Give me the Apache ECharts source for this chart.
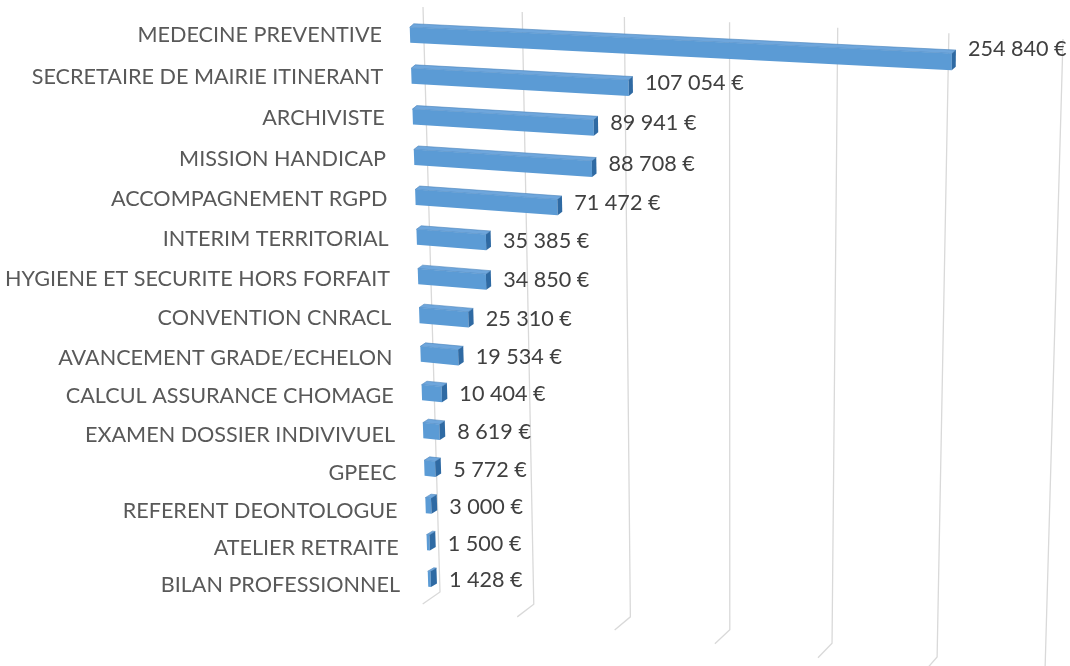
<!DOCTYPE html>
<html><head><meta charset="utf-8">
<script src="https://cdn.jsdelivr.net/npm/echarts@6/dist/echarts.min.js"></script>
<style>html,body{margin:0;padding:0;background:#fff}#c{width:1070px;height:666px}</style>
</head><body><div id="c"></div>
<script>
// ---- data ----
const categories = ['MEDECINE PREVENTIVE', 'SECRETAIRE DE MAIRIE ITINERANT', 'ARCHIVISTE', 'MISSION HANDICAP', 'ACCOMPAGNEMENT RGPD', 'INTERIM TERRITORIAL', 'HYGIENE ET SECURITE HORS FORFAIT', 'CONVENTION CNRACL', 'AVANCEMENT GRADE/ECHELON', 'CALCUL ASSURANCE CHOMAGE', 'EXAMEN DOSSIER INDIVIVUEL', 'GPEEC', 'REFERENT DEONTOLOGUE', 'ATELIER RETRAITE', 'BILAN PROFESSIONNEL'];
const values = [254840, 107054, 89941, 88708, 71472, 35385, 34850, 25310, 19534, 10404, 8619, 5772, 3000, 1500, 1428];
const gridTicks = [0, 50000, 100000, 150000, 200000, 250000, 300000];
const AXIS_MAX = 300000;

// ---- perspective styling (3D look) ----
const BAR_PLANE = {tl:[410,35], tr:[1056,67], bl:[428,579], br:[1045,656]};
const WALL_TOP = [[423,7],[1063,39]];
const WALL_BOTTOM = [[440,592],[1045,671]];
const FLOOR_FRONT = [[422.7,604],[1032.7,687]];
const fu = u => u - 0.084*u*(1-u);
const fs = s => s + 0.062*s*(1-s);
function bil(q, a, b){
  return [
    (1-a)*(1-b)*q.tl[0] + a*(1-b)*q.tr[0] + (1-a)*b*q.bl[0] + a*b*q.br[0],
    (1-a)*(1-b)*q.tl[1] + a*(1-b)*q.tr[1] + (1-a)*b*q.bl[1] + a*b*q.br[1]
  ];
}
const lerp = (seg, a) => [seg[0][0] + (seg[1][0]-seg[0][0])*a, seg[0][1] + (seg[1][1]-seg[0][1])*a];
const FONT = 'Lato, "Noto Sans", sans-serif';
const fmt = v => String(v).replace(/\B(?=(\d{3})+(?!\d))/g, ' ') + ' \u20ac';

function norm(api, v, r){
  const p0 = api.coord([0, 0]);
  const pM = api.coord([AXIS_MAX, 0]);
  const pL = api.coord([0, categories.length - 1]);
  const p = api.coord([v, r]);
  return [(p[0]-p0[0])/(pM[0]-p0[0]), (p[1]-p0[1])/(pL[1]-p0[1])];
}

function renderGrid(params, api){
  const t = api.value(0);
  const n = norm(api, t, 0);
  const a = fu(n[0]);
  const top = lerp(WALL_TOP, a), bot = lerp(WALL_BOTTOM, a), fr = lerp(FLOOR_FRONT, a);
  return {type:'polyline', shape:{points:[top, bot, fr]}, style:{stroke:'#d9d9d9', lineWidth:1.3, fill:null}};
}

function renderBar(params, api){
  const v = api.value(0), r = api.value(1);
  const n = norm(api, v, r);
  const a = fu(n[0]), b = fs(n[1]);
  const H = 7.75/544;
  const A = bil(BAR_PLANE, 0, b-H), B = bil(BAR_PLANE, a, b-H), C = bil(BAR_PLANE, a, b+H), D = bil(BAR_PLANE, 0, b+H);
  const d = [4 + 2*b, -3.5];
  const sh = p => [p[0]+d[0], p[1]+d[1]];
  const left = bil(BAR_PLANE, 0, b);
  const mid = bil(BAR_PLANE, a/2, b);
  const endX = Math.max(B[0], C[0]) + d[0];
  return {type:'group', children:[
    {type:'polygon', shape:{points:[A, B, sh(B), sh(A)]}, style:{fill:'#6ea6dc', stroke:'#4a83bb', lineWidth:0.6}},
    {type:'polygon', shape:{points:[A, B, C, D]}, style:{fill:'#5b9bd5'}},
    {type:'polygon', shape:{points:[B, sh(B), sh(C), C]}, style:{fill:'#2f6aa3'}},
    {type:'text', style:{text: categories[r], x: left[0]-28, y: left[1] + 6*b, align:'right', verticalAlign:'middle', fill:'#595959', font:'21.6px ' + FONT}},
    {type:'text', style:{text: fmt(v), x: endX + 12, y: mid[1] + 1, align:'left', verticalAlign:'middle', fill:'#404040', font:'21.6px ' + FONT}}
  ]};
}

const chart = echarts.init(document.getElementById('c'));
chart.setOption({
  backgroundColor:'#ffffff',
  animation:false,
  grid:{left:0, right:0, top:0, bottom:0},
  xAxis:{type:'value', min:0, max:AXIS_MAX, interval:50000, show:false},
  yAxis:{type:'category', data:categories, inverse:true, show:false},
  series:[
    {type:'custom', z:1, clip:false, renderItem:renderGrid, data:gridTicks.map(t => [t, 0]), encode:{x:0, y:1}},
    {type:'custom', z:2, clip:false, renderItem:renderBar, data:values.map((v, i) => [v, i]), encode:{x:0, y:1}}
  ]
});
</script></body></html>
